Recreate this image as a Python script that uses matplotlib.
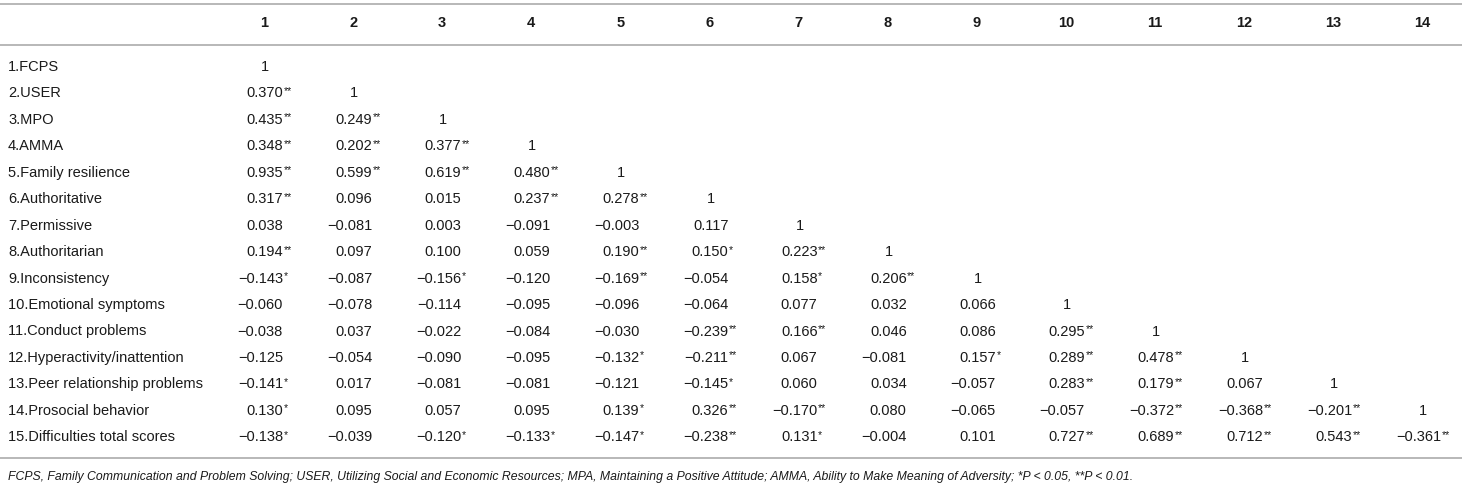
import matplotlib
matplotlib.use("Agg")
import matplotlib.pyplot as plt

plt.rcParams["font.family"] = ["Liberation Sans", "DejaVu Sans"]

W, H = 1462, 487

headers = [str(i) for i in range(1, 15)]
row_labels = [
    "1.FCPS", "2.USER", "3.MPO", "4.AMMA", "5.Family resilience",
    "6.Authoritative", "7.Permissive", "8.Authoritarian", "9.Inconsistency",
    "10.Emotional symptoms", "11.Conduct problems", "12.Hyperactivity/inattention",
    "13.Peer relationship problems", "14.Prosocial behavior",
    "15.Difficulties total scores",
]

# lower-triangle correlations, one list per row
r1 = ["1"]
r2 = ["0.370**", "1"]
r3 = ["0.435**", "0.249**", "1"]
r4 = ["0.348**", "0.202**", "0.377**", "1"]
r5 = ["0.935**", "0.599**", "0.619**", "0.480**", "1"]
r6 = ["0.317**", "0.096", "0.015", "0.237**", "0.278**", "1"]
r7 = ["0.038", "-0.081", "0.003", "-0.091", "-0.003", "0.117", "1"]
r8 = ["0.194**", "0.097", "0.100", "0.059", "0.190**", "0.150*", "0.223**", "1"]
r9 = ["-0.143*", "-0.087", "-0.156*", "-0.120", "-0.169**", "-0.054", "0.158*", "0.206**", "1"]
r10 = ["-0.060", "-0.078", "-0.114", "-0.095", "-0.096", "-0.064", "0.077", "0.032", "0.066", "1"]
r11 = ["-0.038", "0.037", "-0.022", "-0.084", "-0.030", "-0.239**", "0.166**", "0.046", "0.086",
       "0.295**", "1"]
r12 = ["-0.125", "-0.054", "-0.090", "-0.095", "-0.132*", "-0.211**", "0.067", "-0.081", "0.157*",
       "0.289**", "0.478**", "1"]
r13 = ["-0.141*", "0.017", "-0.081", "-0.081", "-0.121", "-0.145*", "0.060", "0.034", "-0.057",
       "0.283**", "0.179**", "0.067", "1"]
r14 = ["0.130*", "0.095", "0.057", "0.095", "0.139*", "0.326**", "-0.170**", "0.080", "-0.065",
       "-0.057", "-0.372**", "-0.368**", "-0.201**", "1"]
r15 = ["-0.138*", "-0.039", "-0.120*", "-0.133*", "-0.147*", "-0.238**", "0.131*", "-0.004", "0.101",
       "0.727**", "0.689**", "0.712**", "0.543**", "-0.361**"]
rows = [r1, r2, r3, r4, r5, r6, r7, r8, r9, r10, r11, r12, r13, r14, r15]

footnote = ("FCPS, Family Communication and Problem Solving; USER, Utilizing Social and Economic "
            "Resources; MPA, Maintaining a Positive Attitude; AMMA, Ability to Make Meaning of "
            "Adversity; *P < 0.05, **P < 0.01.")

fig = plt.figure(figsize=(W / 100, H / 100), dpi=100)
ax = fig.add_axes([0, 0, 1, 1])
ax.set_xlim(0, W)
ax.set_ylim(H, 0)
ax.axis("off")

txt = "#1a1a1a"
line_c = "#b8b8b8"
fs = 10.5

col_x0, col_dx = 264, 89.1
row_y0, row_dy = 67, 26.45

for y in (4, 44.5, 458):
    ax.plot([0, W], [y, y], color=line_c, lw=1.4, solid_capstyle="butt")

for j, h in enumerate(headers):
    ax.text(col_x0 + j * col_dx, 23, h, ha="center", va="center",
            fontsize=fs, fontweight="bold", color=txt)

for i, (lab, vals) in enumerate(zip(row_labels, rows)):
    y = row_y0 + i * row_dy
    ax.text(8, y, lab, ha="left", va="center", fontsize=fs, color=txt)
    for j, v in enumerate(vals):
        xc = col_x0 + j * col_dx
        if v == "1":
            ax.text(xc + 1, y, "1", ha="center", va="center", fontsize=fs, color=txt)
            continue
        num = v.rstrip("*").replace("-", "\u2212")
        stars = v[len(v.rstrip("*")):]
        xr = xc + 19
        ax.text(xr, y, num, ha="right", va="center", fontsize=fs, color=txt)
        if stars:
            ax.text(xr + 0.5, y - 2.5, stars, ha="left", va="center", fontsize=7.5, color=txt)

ax.text(8, 477, footnote, ha="left", va="center", fontsize=8.8, style="italic", color=txt)

fig.savefig("out.png", dpi=100)
